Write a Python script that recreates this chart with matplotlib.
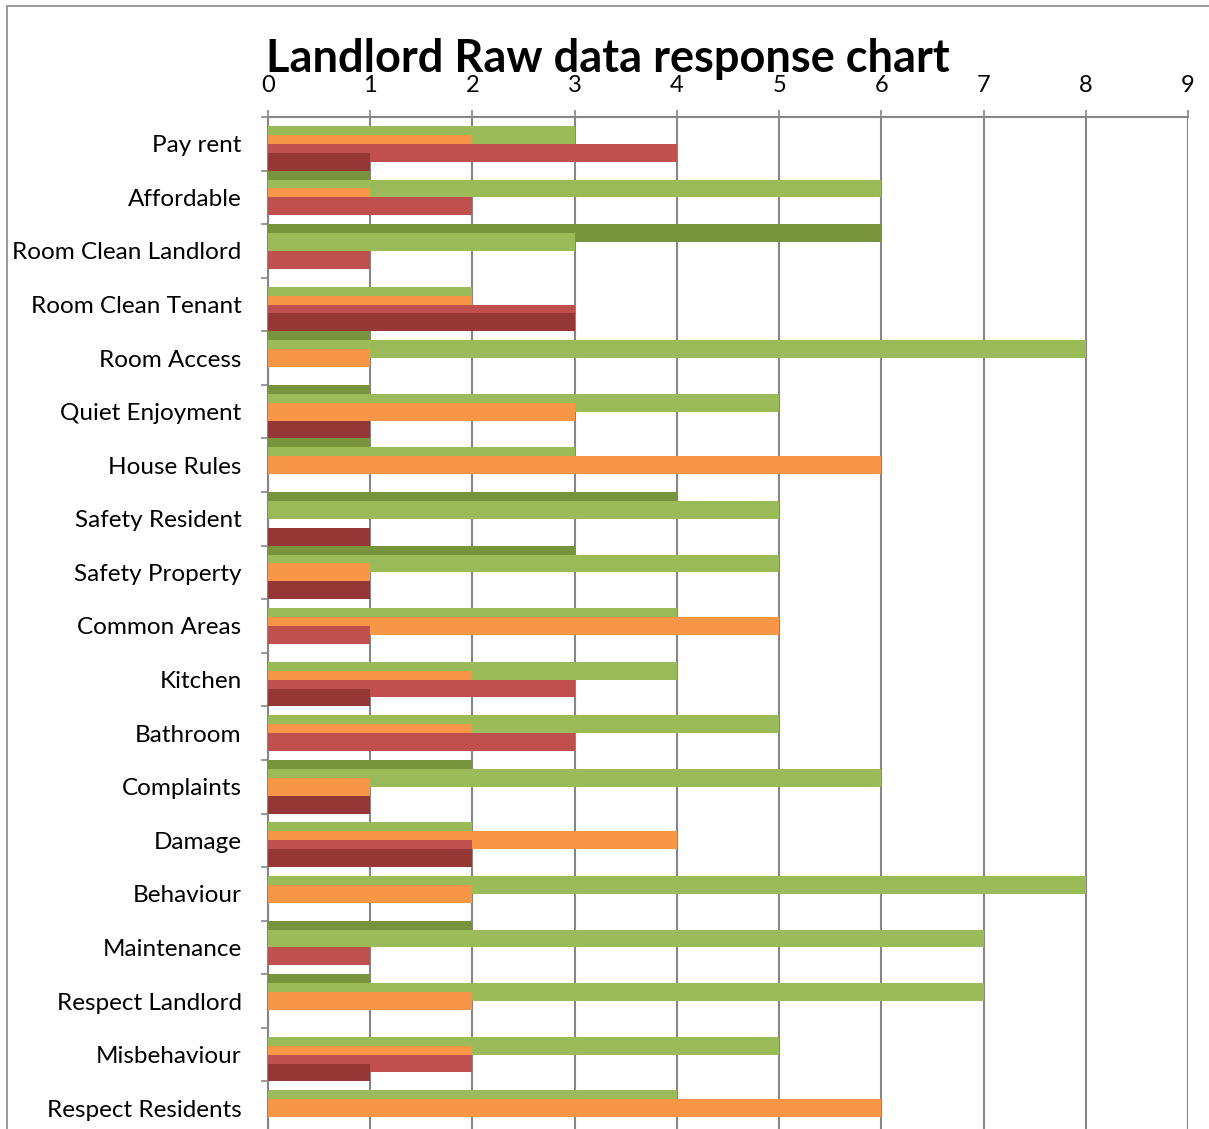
import matplotlib.pyplot as plt
import matplotlib.patches as mpatches
import numpy as np

categories = ['Pay rent', 'Affordable', 'Room Clean Landlord', 'Room Clean Tenant',
              'Room Access', 'Quiet Enjoyment', 'House Rules', 'Safety Resident',
              'Safety Property', 'Common Areas', 'Kitchen', 'Bathroom', 'Complaints',
              'Damage', 'Behaviour', 'Maintenance', 'Respect Landlord', 'Misbehaviour',
              'Respect Residents']

# five response series per category, listed top to bottom inside each group
series_dark_green = [0, 1, 6, 0, 1, 1, 1, 4, 3, 0, 0, 0, 2, 0, 0, 2, 1, 0, 0]
series_light_green = [3, 6, 3, 2, 8, 5, 3, 5, 5, 4, 4, 5, 6, 2, 8, 7, 7, 5, 4]
series_orange = [2, 1, 0, 2, 1, 3, 6, 0, 1, 5, 2, 2, 1, 4, 2, 0, 2, 2, 6]
series_red = [4, 2, 1, 3, 0, 0, 0, 0, 0, 1, 3, 3, 0, 2, 0, 1, 0, 2, 0]
series_dark_red = [1, 0, 0, 3, 0, 1, 0, 1, 1, 0, 1, 0, 1, 2, 0, 0, 0, 1, 0]

series = [series_dark_green, series_light_green, series_orange, series_red, series_dark_red]
colors = ['#77933C', '#9BBB59', '#F79646', '#C0504D', '#953735']

W, H = 1209, 1129
fig = plt.figure(figsize=(W / 100, H / 100), dpi=100)
plt.rcParams['font.family'] = ['Lato', 'DejaVu Sans']

ax = fig.add_axes([268 / W, (H - 1135) / H, (1188 - 268) / W, (1135 - 117) / H])

n = len(categories)
idx = np.arange(n)
for j, (vals, col) in enumerate(zip(series, colors)):
    ax.barh(idx + (j + 1) / 6, vals, height=1 / 3, color=col, zorder=3 + j,
            edgecolor='none')

ax.set_xlim(0, 9)
ax.set_ylim(n, 0)

ax.xaxis.tick_top()
ax.set_xticks(range(10))
ax.tick_params(axis='x', direction='out', length=5, width=1.2, color='#868686',
               labelsize=17, pad=10)
ax.grid(axis='x', color='#868686', linewidth=1.5, zorder=0)
ax.set_axisbelow(True)

ax.set_yticks(idx + 0.5)
ax.set_yticklabels(categories, fontsize=17.5)
ax.tick_params(axis='y', which='major', length=0, pad=19)
ax.set_yticks(np.arange(n + 1), minor=True)
ax.tick_params(axis='y', which='minor', direction='out', length=5, width=1.2,
               color='#868686')

for s in ['right', 'bottom']:
    ax.spines[s].set_visible(False)
for s in ['top', 'left']:
    ax.spines[s].set_color('#868686')
    ax.spines[s].set_linewidth(1.5)

fig.text(608 / W, 1 - 72 / H, 'Landlord Raw data response chart', ha='center',
         va='baseline', fontsize=32.5, fontweight='bold')

fig.patches.append(mpatches.Rectangle((7 / W, -0.1), 1.2, 1 - 6 / H + 0.1,
                                      transform=fig.transFigure, fill=False,
                                      edgecolor='#8a8a8a', linewidth=1.2))

fig.savefig('out.png', dpi=100)
